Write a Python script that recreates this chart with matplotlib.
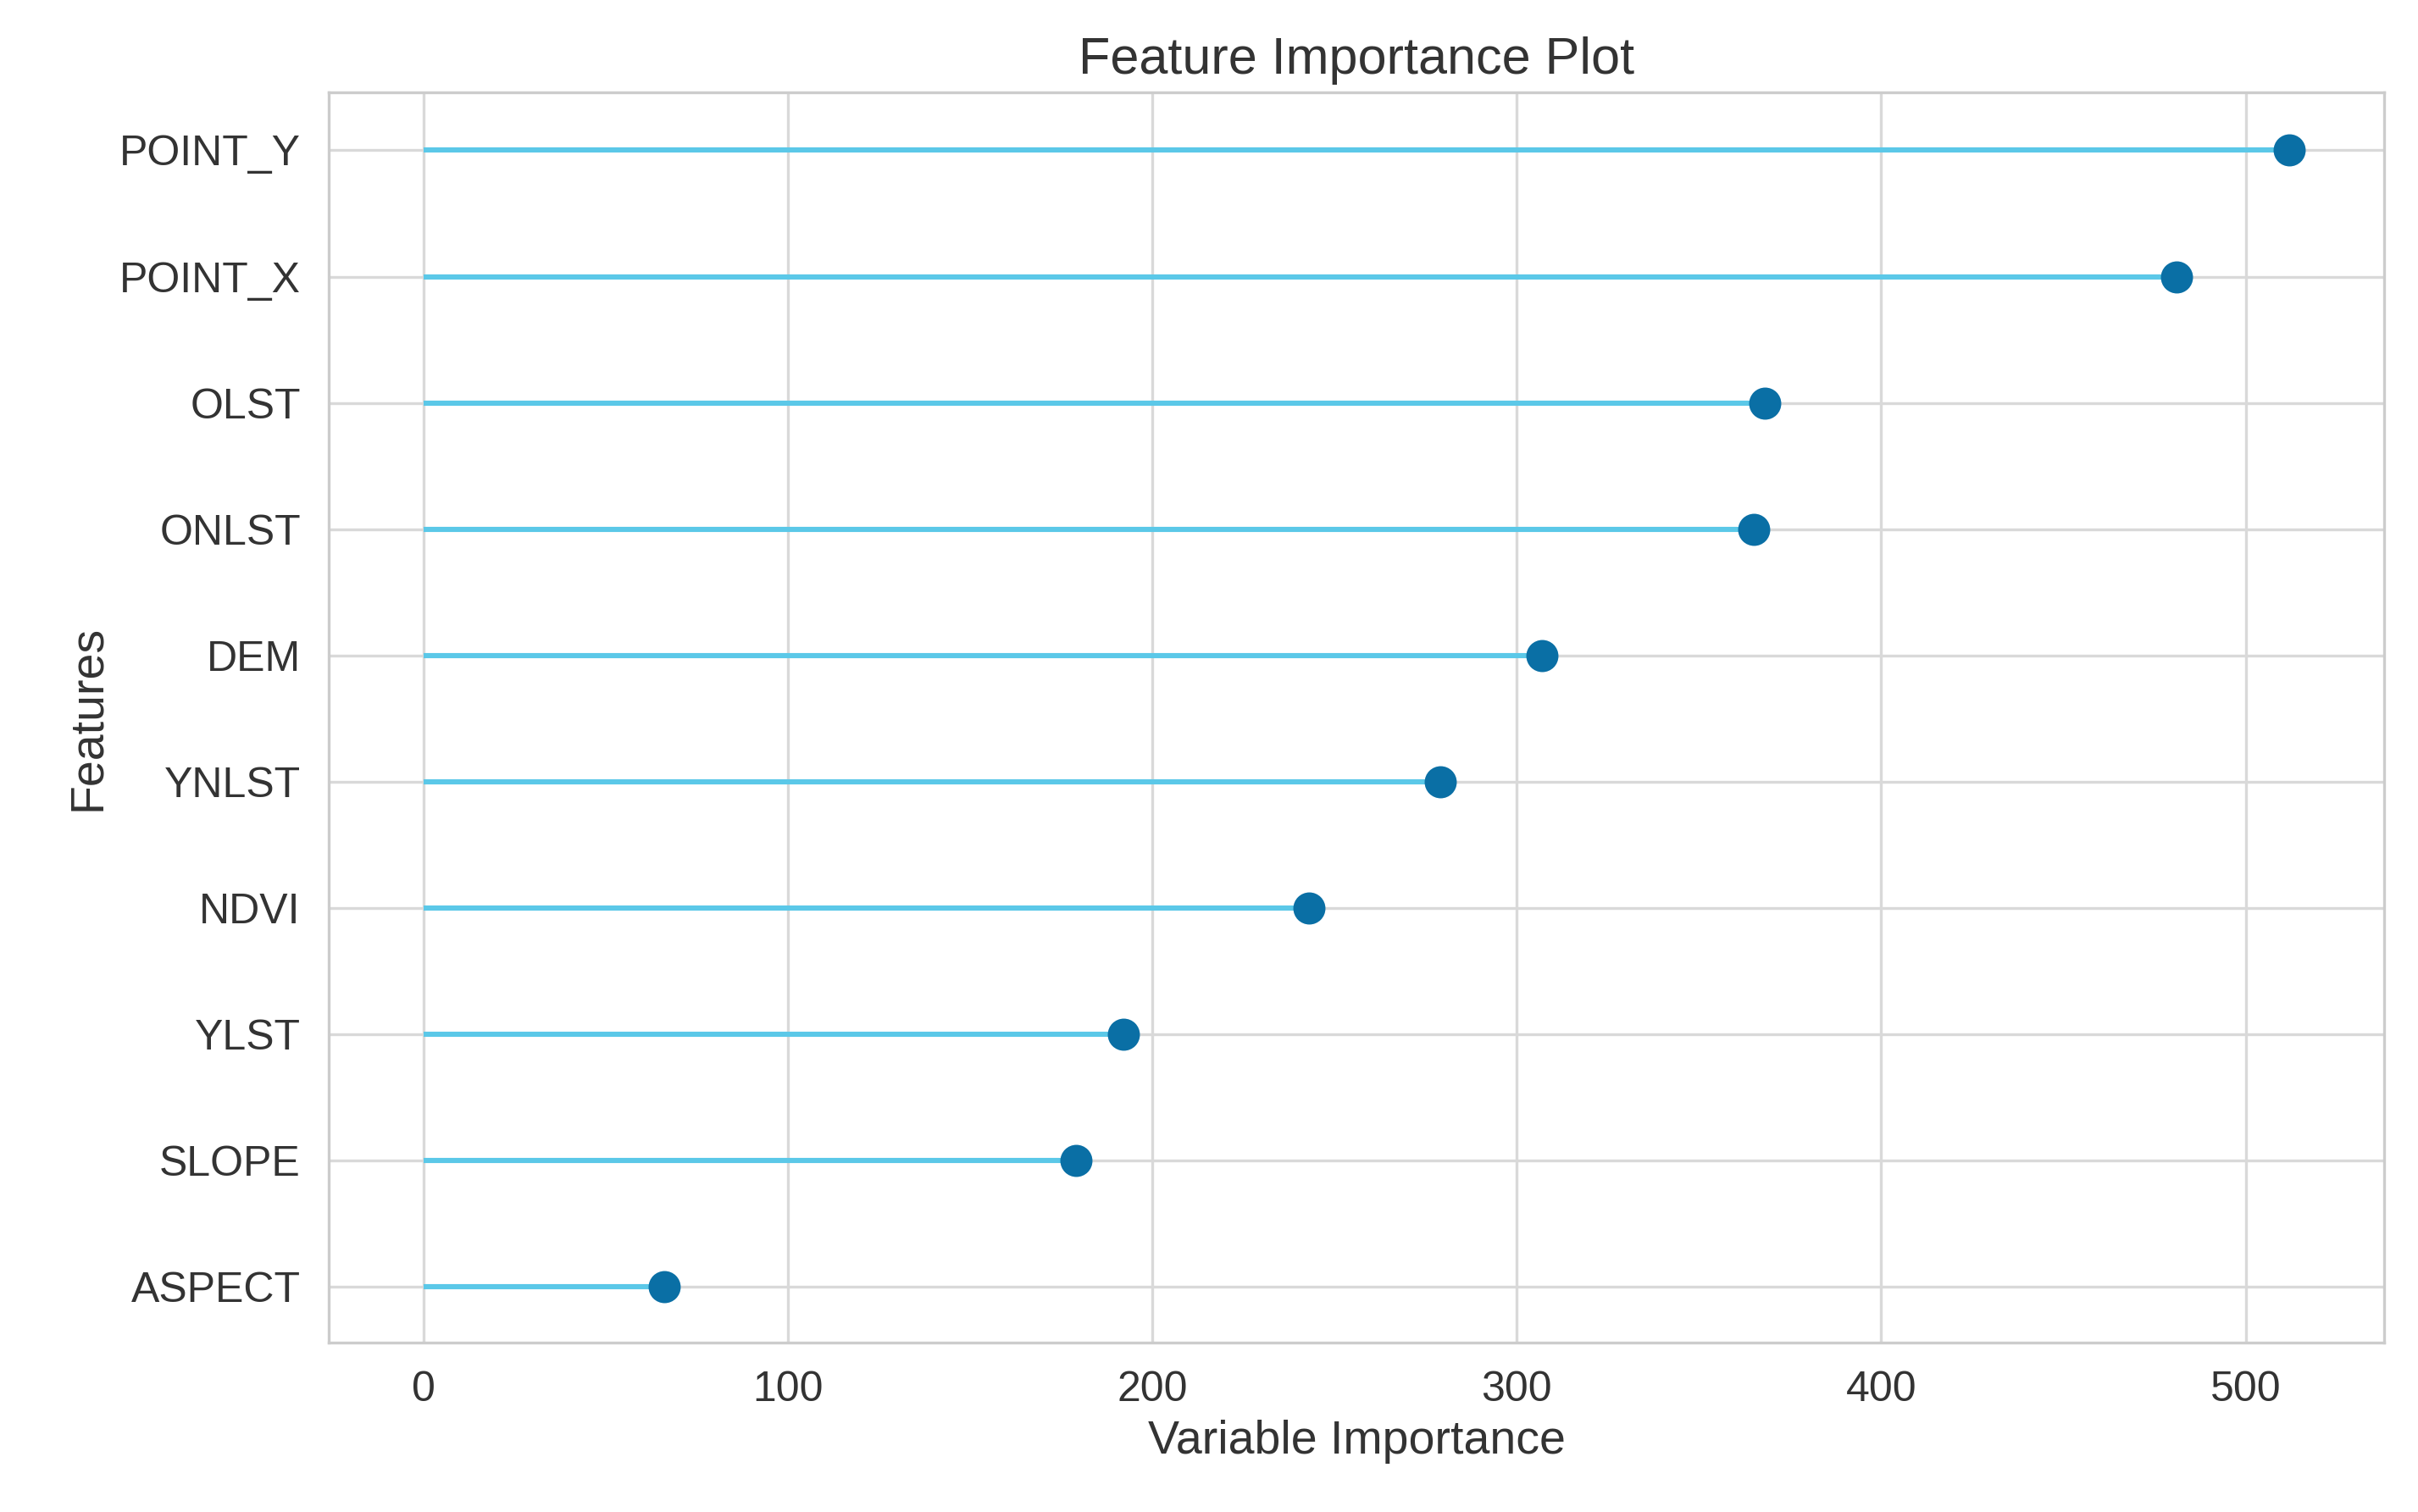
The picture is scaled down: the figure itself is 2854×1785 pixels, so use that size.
import matplotlib
matplotlib.use("Agg")
import matplotlib.pyplot as plt

features = ["ASPECT", "SLOPE", "YLST", "NDVI", "YNLST", "DEM", "ONLST", "OLST", "POINT_X", "POINT_Y"]
importance = [66, 179, 192, 243, 279, 307, 365, 368, 481, 512]

plt.rcParams['font.family'] = ['Liberation Sans', 'DejaVu Sans']
fig = plt.figure(figsize=(14.27, 8.925), dpi=200)
ax = fig.add_axes([0.136, 0.112, 0.85, 0.827])
ax.set_facecolor('white')
pos = list(range(len(features)))
ax.hlines(pos, 0, importance, color='#5bc8e8', linewidth=2.2, zorder=2)
ax.scatter(importance, pos, s=160, color='#0a6fa5', zorder=3)
ax.set_yticks(pos)
ax.set_yticklabels(features)
ax.set_xticks([0, 100, 200, 300, 400, 500])
ax.set_xlim(-26, 538)
ax.set_ylim(-0.44, 9.46)
ax.grid(True, color='#d9d9d9', linewidth=1.2, zorder=0)
ax.set_axisbelow(True)
for s in ax.spines.values():
    s.set_color('#cccccc'); s.set_linewidth(1.2)
ax.tick_params(length=0, labelsize=18, colors='#333333', pad=12)
ax.set_xlabel('Variable Importance', fontsize=20, color='#333333')
ax.set_ylabel('Features', fontsize=20, color='#333333')
ax.set_title('Feature Importance Plot', fontsize=22, color='#333333', pad=8)
fig.savefig('out.png', dpi=200, facecolor='white')
